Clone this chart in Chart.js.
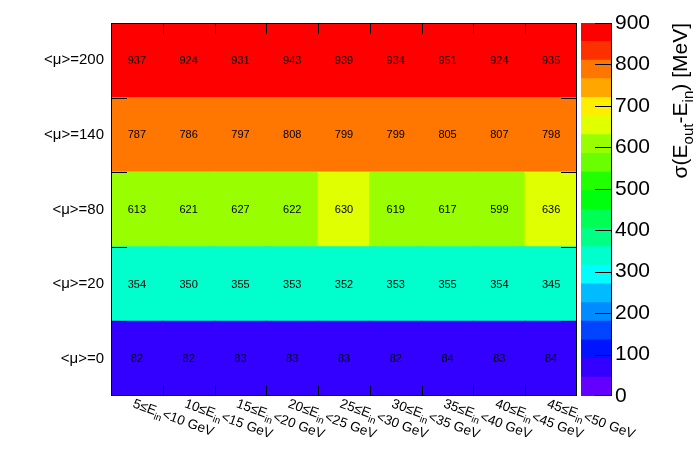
<!DOCTYPE html>
<html><head><meta charset="utf-8">
<script src="https://cdn.jsdelivr.net/npm/chart.js@4.4.1/dist/chart.umd.min.js"></script>
<style>
html,body{margin:0;padding:0;background:#fff;}
#wrap{position:relative;width:696px;height:472px;background:#fff;}
canvas{position:absolute;left:0;top:0;}
</style></head><body>
<div id="wrap"><canvas id="main" width="696" height="472"></canvas><canvas id="zbar" width="696" height="472"></canvas></div>
<script>
// ---- data ----
const xLabels = ['5≤E_{in}<10 GeV','10≤E_{in}<15 GeV','15≤E_{in}<20 GeV','20≤E_{in}<25 GeV','25≤E_{in}<30 GeV','30≤E_{in}<35 GeV','35≤E_{in}<40 GeV','40≤E_{in}<45 GeV','45≤E_{in}<50 GeV'];
const yLabels = ['<μ>=0','<μ>=20','<μ>=80','<μ>=140','<μ>=200'];
const mu0   = [82, 82, 83, 83, 83, 82, 84, 83, 84];
const mu20  = [354, 350, 355, 353, 352, 353, 355, 354, 345];
const mu80  = [613, 621, 627, 622, 630, 619, 617, 599, 636];
const mu140 = [787, 786, 797, 808, 799, 799, 805, 807, 798];
const mu200 = [937, 924, 931, 943, 939, 934, 951, 924, 935];
const rows = [mu0, mu20, mu80, mu140, mu200];
const zLevels = [0,45,90,135,180,225,270,315,360,405,450,495,540,585,630,675,720,765,810,855,900];
const zTicks = [0,100,200,300,400,500,600,700,800,900];
const zTitle = 'σ(E_{out}-E_{in}) [MeV]';
const zColors = ['#6300ff','#3300ff','#0014ff','#0044ff','#008bff','#00bbff','#00fffc','#00ffcc',
                 '#00ff85','#00ff55','#00ff0e','#22ff00','#69ff00','#99ff00','#e0ff00','#ffee00',
                 '#ffa700','#ff7700','#ff3000','#ff0000'];

const FONT = '"Liberation Sans", Arial, Helvetica, sans-serif';

function colorFor(v){
  let k = zLevels.length - 2;
  for (let i = 0; i < zLevels.length - 1; i++) { if (v < zLevels[i+1]) { k = i; break; } }
  return zColors[k];
}

function parseRich(text){
  const parts = []; const re = /_\{([^}]*)\}/g; let last = 0, m;
  while ((m = re.exec(text))) {
    if (m.index > last) parts.push({t: text.slice(last, m.index), sub: false});
    parts.push({t: m[1], sub: true}); last = re.lastIndex;
  }
  if (last < text.length) parts.push({t: text.slice(last), sub: false});
  return parts;
}
function richWidth(ctx, text, size){
  let w = 0;
  for (const p of parseRich(text)) { ctx.font = (p.sub ? size*0.72 : size) + 'px ' + FONT; w += ctx.measureText(p.t).width; }
  return w;
}
function drawRich(ctx, text, x, y, size){
  let cx = x;
  for (const p of parseRich(text)) {
    const fs = p.sub ? size*0.72 : size;
    ctx.font = fs + 'px ' + FONT;
    ctx.fillText(p.t, cx, y + (p.sub ? size*0.3 : 0));
    cx += ctx.measureText(p.t).width;
  }
}

const mainDecor = {
  id: 'mainDecor',
  afterDatasetsDraw(chart){
    const ctx = chart.ctx, a = chart.chartArea;
    const xs = chart.scales.x, ys = chart.scales.y;
    ctx.save();
    // cell values
    ctx.fillStyle = '#000'; ctx.font = '11px ' + FONT;
    ctx.textAlign = 'center'; ctx.textBaseline = 'middle';
    chart.data.datasets.forEach((ds, di) => {
      const meta = chart.getDatasetMeta(di);
      meta.data.forEach((el, i) => {
        ctx.fillText(String(rows[di][i]), el.x, (el.y + el.base) / 2 + 0.5);
      });
    });
    // frame
    ctx.strokeStyle = '#000'; ctx.lineWidth = 1;
    ctx.strokeRect(a.left + 0.5, a.top + 0.5, a.right - a.left - 1, a.bottom - a.top - 1);
    // ticks at bin edges
    ctx.beginPath();
    for (let i = 1; i < xLabels.length; i++) {
      const px = Math.round((xs.getPixelForValue(i-1) + xs.getPixelForValue(i)) / 2) + 0.5;
      ctx.moveTo(px, a.bottom); ctx.lineTo(px, a.bottom - 11);
      ctx.moveTo(px, a.top); ctx.lineTo(px, a.top + 11);
    }
    for (let k = 1; k < yLabels.length; k++) {
      const py = Math.round(ys.getPixelForValue(k)) + 0.5;
      ctx.moveTo(a.left, py); ctx.lineTo(a.left + 16, py);
      ctx.moveTo(a.right, py); ctx.lineTo(a.right - 16, py);
    }
    ctx.stroke();
    ctx.restore();
  },
  afterDraw(chart){
    const ctx = chart.ctx, a = chart.chartArea, xs = chart.scales.x;
    ctx.save();
    ctx.fillStyle = '#000'; ctx.textAlign = 'left'; ctx.textBaseline = 'alphabetic';
    const size = 13.5;
    xLabels.forEach((lab, i) => {
      const cx = xs.getPixelForValue(i);
      ctx.save();
      ctx.translate(cx - 1.5, a.bottom + 1.5);
      ctx.rotate(20 * Math.PI / 180);
      drawRich(ctx, lab, 0, 10, size);
      ctx.restore();
    });
    ctx.restore();
  }
};

new Chart(document.getElementById('main'), {
  type: 'bar',
  data: {
    labels: xLabels,
    datasets: rows.map((vals, r) => ({
      data: vals.map(() => [r, r + 1]),
      backgroundColor: vals.map(colorFor),
      borderWidth: 0,
      inflateAmount: 0.6,
      grouped: false,
      barPercentage: 1,
      categoryPercentage: 1
    }))
  },
  options: {
    responsive: false, animation: false,
    layout: { padding: { left: 0, top: 23, right: 119, bottom: 76 } },
    plugins: { legend: { display: false }, tooltip: { enabled: false } },
    events: [],
    scales: {
      x: { type: 'category', offset: true,
           grid: { display: false, drawTicks: false }, border: { display: false },
           ticks: { display: false }, afterFit(s){ s.height = 0; } },
      y: { type: 'linear', min: 0, max: 5,
           grid: { display: false, drawTicks: false }, border: { display: false },
           afterBuildTicks(s){ s.ticks = yLabels.map((_, i) => ({ value: i + 0.5 })); },
           ticks: { autoSkip: false, color: '#000', padding: 7, font: { family: FONT, size: 15 },
                    callback: (v) => yLabels[Math.floor(v)] },
           afterFit(s){ s.width = 111; } }
    }
  },
  plugins: [mainDecor]
});

const zDecor = {
  id: 'zDecor',
  afterDatasetsDraw(chart){
    const ctx = chart.ctx, a = chart.chartArea, ys = chart.scales.y;
    ctx.save();
    ctx.strokeStyle = '#000'; ctx.lineWidth = 1;
    ctx.beginPath();
    ctx.moveTo(a.right - 0.5, a.top); ctx.lineTo(a.right - 0.5, a.bottom);
    zTicks.forEach(t => {
      let py = Math.round(ys.getPixelForValue(t)) + 0.5;
      if (py > a.bottom) py = a.bottom - 0.5;
      ctx.moveTo(a.right, py); ctx.lineTo(a.right - 17, py);
    });
    ctx.stroke();
    // title
    ctx.fillStyle = '#000'; ctx.textBaseline = 'alphabetic'; ctx.textAlign = 'left';
    const size = 21;
    const w = richWidth(ctx, zTitle, size);
    ctx.translate(687, a.top);
    ctx.rotate(-Math.PI / 2);
    drawRich(ctx, zTitle, -w, 0, size);
    ctx.restore();
  }
};

new Chart(document.getElementById('zbar'), {
  type: 'bar',
  data: {
    labels: ['z'],
    datasets: zColors.map((c, k) => ({
      data: [[zLevels[k], zLevels[k + 1]]],
      backgroundColor: c, borderWidth: 0, inflateAmount: 0.6, grouped: false,
      barPercentage: 1, categoryPercentage: 1
    }))
  },
  options: {
    responsive: false, animation: false,
    layout: { padding: { left: 581, top: 23, right: 24, bottom: 76 } },
    plugins: { legend: { display: false }, tooltip: { enabled: false } },
    events: [],
    scales: {
      x: { display: false },
      y: { type: 'linear', position: 'right', min: 0, max: 900,
           grid: { display: false, drawTicks: false }, border: { display: false },
           afterBuildTicks(s){ s.ticks = zTicks.map(v => ({ value: v })); },
           ticks: { color: '#000', padding: 3, font: { family: FONT, size: 21 } },
           afterFit(s){ s.width = 60; } }
    }
  },
  plugins: [zDecor]
});
</script>
</body></html>
